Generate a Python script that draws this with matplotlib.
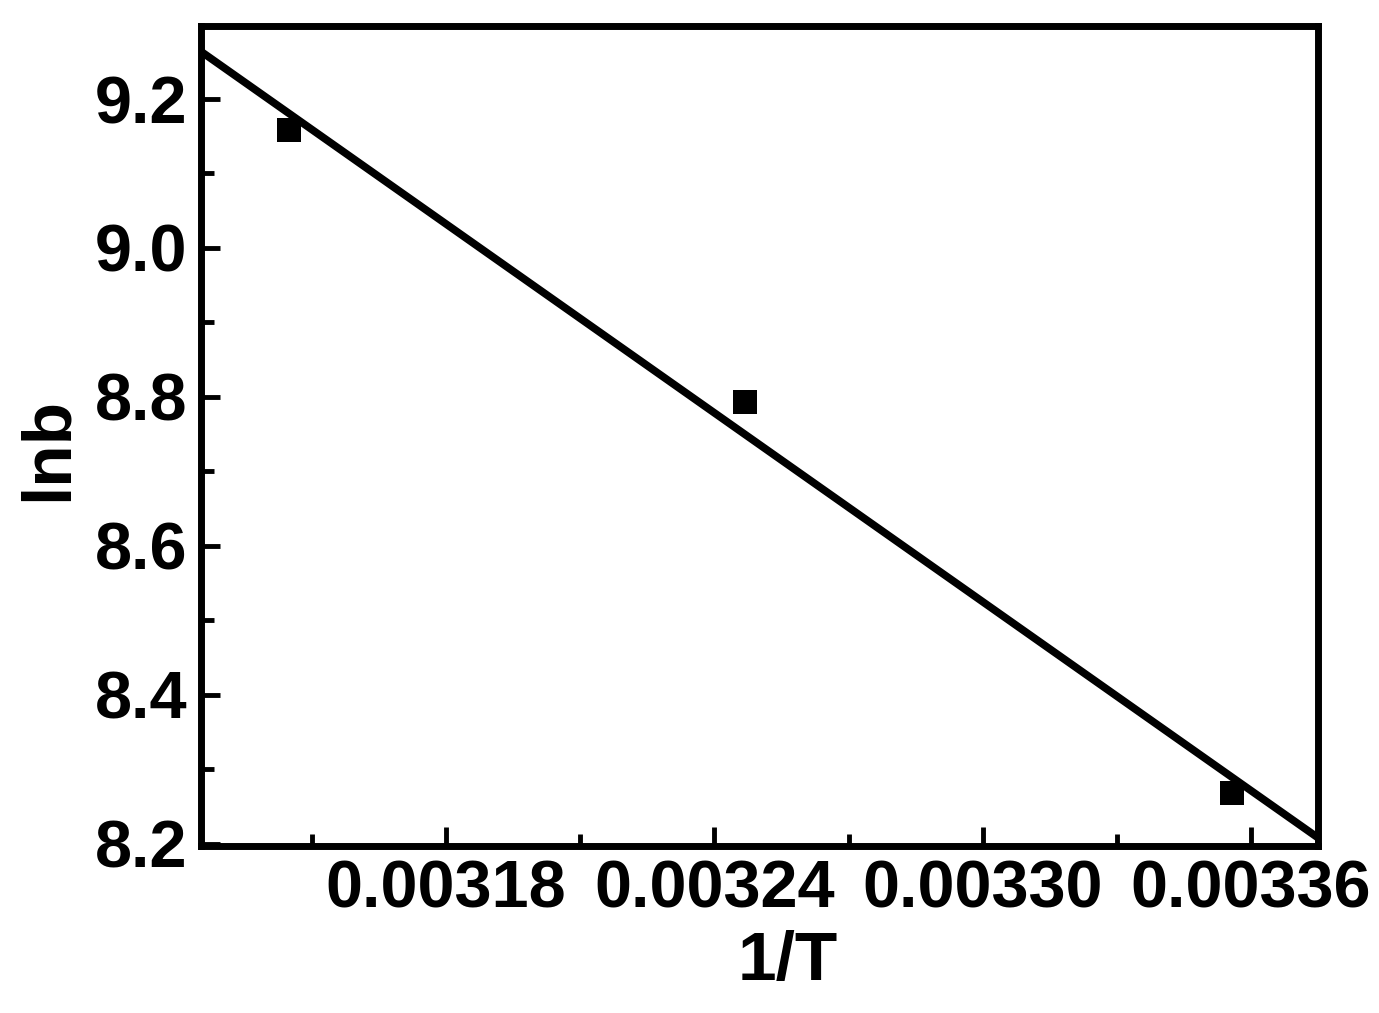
import matplotlib
matplotlib.use("Agg")
import matplotlib.pyplot as plt
import numpy as np
from matplotlib.ticker import MultipleLocator, FixedLocator

# ---- data ----
inv_T = [0.0031449, 0.0032469, 0.0033558]
ln_b = [9.158, 8.793, 8.268]
x_ticks = [0.00318, 0.00324, 0.00330, 0.00336]
x_tick_labels = ["0.00318", "0.00324", "0.00330", "0.00336"]
y_ticks = [8.2, 8.4, 8.6, 8.8, 9.0, 9.2]
y_tick_labels = ["8.2", "8.4", "8.6", "8.8", "9.0", "9.2"]
x_limits = (0.0031253, 0.0033750)
y_limits = (8.197, 9.298)

plt.rcParams["font.family"] = ["Liberation Sans", "DejaVu Sans"]
plt.rcParams["font.weight"] = "bold"
FS = 48

fig = plt.figure(figsize=(13.79, 10.13), dpi=100)
ax = fig.add_axes([0.1461, 0.1649, 0.9558 - 0.1461, 0.9743 - 0.1649])

# linear fit through the points
slope, intercept = np.polyfit(inv_T, ln_b, 1)
xl = np.array(x_limits)
ax.plot(xl, slope * xl + intercept, color="black", lw=5.5, solid_capstyle="butt", zorder=2)
ax.plot(inv_T, ln_b, linestyle="none", marker="s", markersize=17,
        color="black", markeredgewidth=0, zorder=3)

ax.set_xlim(*x_limits)
ax.set_ylim(*y_limits)

ax.xaxis.set_major_locator(FixedLocator(x_ticks))
ax.set_xticklabels(x_tick_labels)
ax.xaxis.set_minor_locator(MultipleLocator(0.00003))
ax.yaxis.set_major_locator(FixedLocator(y_ticks))
ax.set_yticklabels(y_tick_labels)
ax.yaxis.set_minor_locator(MultipleLocator(0.1))

for s in ax.spines.values():
    s.set_linewidth(5)
    s.set_color("black")

ax.tick_params(which="both", direction="in", top=False, right=False, width=3.5, color="black")
ax.tick_params(which="major", length=14)
ax.tick_params(which="minor", length=9)
ax.tick_params(axis="x", which="major", labelsize=FS, pad=10)
ax.tick_params(axis="y", which="major", labelsize=FS, pad=10)
for lab in ax.get_xticklabels() + ax.get_yticklabels():
    lab.set_fontweight("bold")

ax.set_xlabel("1/T", fontsize=FS + 2, fontweight="bold")
ax.set_ylabel("lnb", fontsize=FS + 2, fontweight="bold")
ax.xaxis.set_label_coords(0.525, -0.102)
ax.yaxis.label.set_verticalalignment("center")
ax.yaxis.set_label_coords(-0.1366, 0.484)

fig.savefig("out.png", dpi=100, facecolor="white")
